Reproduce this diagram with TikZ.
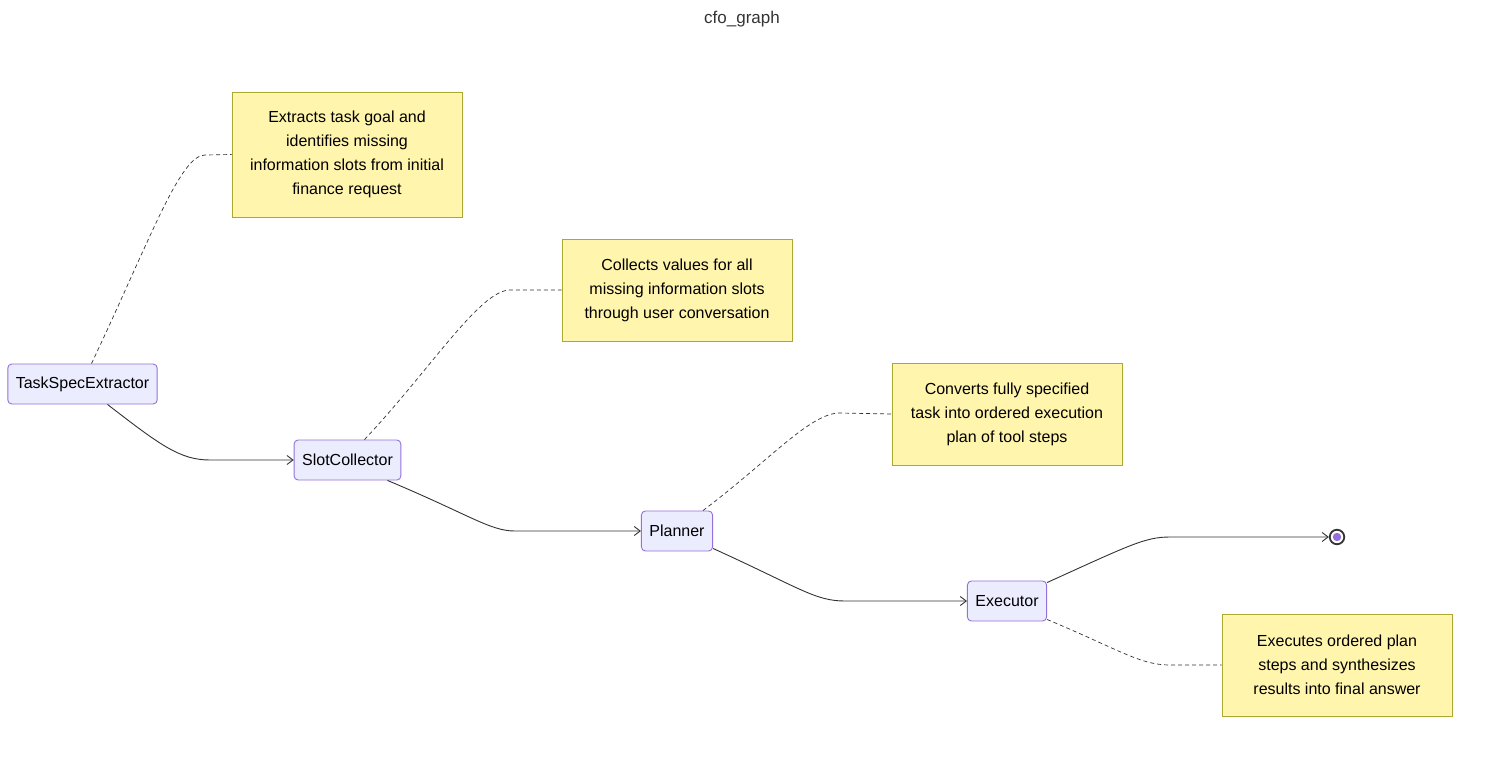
\documentclass[tikz,border=0pt]{standalone}
\usepackage{fontspec}
\setmainfont{Liberation Sans}
\usepackage{xcolor}
\usetikzlibrary{arrows.meta,calc}
\definecolor{nodefill}{HTML}{ECECFF}
\definecolor{nodeline}{HTML}{9370DB}
\definecolor{notefill}{HTML}{FFF5AD}
\definecolor{noteline}{HTML}{AAAA33}
\definecolor{edgeline}{HTML}{333333}
\tikzset{
	agent/.style={
			draw=nodeline, fill=nodefill, rounded corners=4pt, line width=0.9pt,
			minimum height=40pt, inner xsep=8pt, font=\fontsize{16}{24}\selectfont
		},
	memo/.style={
			draw=noteline, fill=notefill, minimum width=230pt, line width=0.9pt,
			align=center, font=\fontsize{16}{24}\selectfont
		},
	flow/.style={draw=edgeline, line width=0.9pt, -{Straight Barb[length=6pt,width=9pt]}},
	hint/.style={draw=edgeline, line width=0.7pt, dash pattern=on 4pt off 3pt}
}

\begin{document}
\begin{tikzpicture}[x=1pt, y=-1pt]
	\useasboundingbox (0,0) rectangle (1485,760);
	\node (title) at (742,19) {\fontsize{17}{20}\selectfont\color{edgeline}cfo\_graph};

	% agents
	\node[agent] (extract) at (82.5,384) {TaskSpecExtractor};
	\node[agent] (slots) at (347.5,460) {SlotCollector};
	\node[agent] (plan) at (677,531) {Planner};
	\node[agent] (exec) at (1007,601) {Executor};

	% end state
	\node[circle, draw=edgeline, line width=1.8pt, fill=white, minimum size=14.5pt, inner sep=0pt] (finish) at (1337,537) {};
	\fill[nodeline] (finish.center) circle (4.2pt);

	% notes
	\node[memo, minimum height=125pt] (memoA) at (347,154.5) {Extracts task goal and\\identifies missing\\information slots from initial\\finance request};
	\node[memo, minimum height=102pt] (memoB) at (677,290) {Collects values for all\\missing information slots\\through user conversation};
	\node[memo, minimum height=102pt] (memoC) at (1007,414) {Converts fully specified\\task into ordered execution\\plan of tool steps};
	\node[memo, minimum height=102pt] (memoD) at (1337,665) {Executes ordered plan\\steps and synthesizes\\results into final answer};

	% transitions
	\draw[flow] ($(extract.south)+(25,0)$) .. controls (160,445) and (180,460) .. (210,460) -- (slots.west);
	\draw[flow] ($(slots.south)+(40,0)$) .. controls (470,515) and (490,531) .. (515,531) -- (plan.west);
	\draw[flow] ($(plan.south east)+(0,-3)$) .. controls (800,588) and (815,601) .. (845,601) -- (exec.west);
	\draw[flow] ($(exec.north east)+(0,2)$) .. controls (1130,545) and (1145,537) .. (1170,537) -- (finish.west);

	% note links
	\draw[hint] ($(extract.north)+(9,0)$) .. controls (150,240) and (180,155) .. (205,155) -- (memoA.west);
	\draw[hint] ($(slots.north)+(17,0)$) .. controls (430,370) and (480,290) .. (510,290) -- (memoB.west);
	\draw[hint] ($(plan.north)+(26,0)$) .. controls (770,460) and (810,413) .. (840,413) -- (memoC.west);
	\draw[hint] ($(exec.south east)+(0,-2)$) .. controls (1120,650) and (1140,665) .. (1170,665) -- (memoD.west);
\end{tikzpicture}
\end{document}
